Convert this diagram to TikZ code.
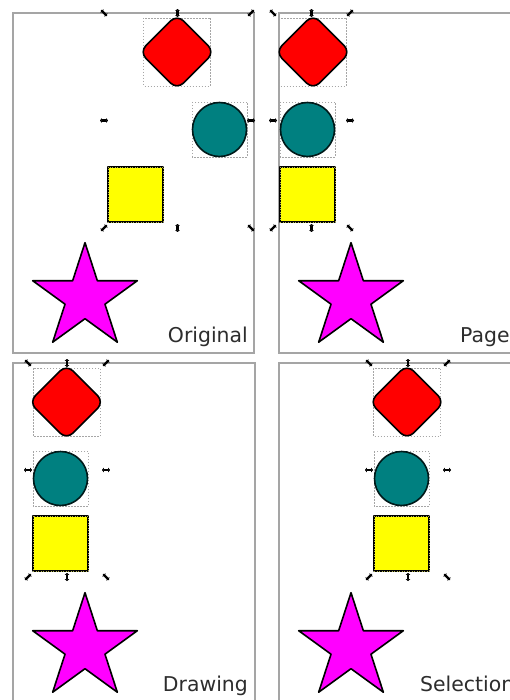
\documentclass[tikz,border=0pt]{standalone}
\usepackage{fontspec}
\setmainfont{DejaVu Sans}
\usetikzlibrary{arrows.meta,calc}
\definecolor{tealc}{RGB}{0,128,128}
\definecolor{redc}{RGB}{255,0,0}
\definecolor{yellowc}{RGB}{255,255,0}
\definecolor{magentac}{RGB}{255,0,255}
\definecolor{txt}{RGB}{45,45,45}
\definecolor{frame}{RGB}{165,165,165}
\tikzset{
  panelframe/.style={draw=frame,line width=1.4pt},
  bboxline/.style={draw=gray!70,line width=0.5pt,dash pattern=on 1.5pt off 1.5pt},
  shapeline/.style={draw=black,line width=1.6pt,line join=round},
  handle/.style={line width=2.4pt,black,{Triangle[length=1.8pt,width=4.5pt]}-{Triangle[length=1.8pt,width=4.5pt]}},
  paneltext/.style={font=\fontsize{20.4}{22}\selectfont,text=txt,inner sep=0pt},
  rdia/.pic={
    \draw[bboxline] (-33.5,-34) rectangle (33.5,34);
    \filldraw[shapeline,fill=redc,rounded corners=9pt] (0,-37.5) -- (37.5,0) -- (0,37.5) -- (-37.5,0) -- cycle;
  },
  tcirc/.pic={
    \draw[bboxline] (-27.5,-27.5) rectangle (27.5,27.5);
    \filldraw[shapeline,draw=black!80!tealc,fill=tealc] (0,0) circle[radius=27];
  },
  ysq/.pic={
    \filldraw[shapeline,fill=yellowc] (-27.5,-27.5) rectangle (27.5,27.5);
    \draw[line width=0.8pt,yellowc!40!gray,dash pattern=on 1pt off 1.5pt] (-27.5,-27.5) rectangle (27.5,27.5);
  },
  mstar/.pic={
    \filldraw[shapeline,fill=magentac]
      (-90:55) -- (-54:21) -- (-18:55) -- (18:21) -- (54:55) -- (90:21)
      -- (126:55) -- (162:21) -- (198:55) -- (234:21) -- cycle;
  }
}
\newcommand\SelHandles[4]{% left right top bottom
  \coordinate (hl) at (#1,{(#3+#4)/2});
  \coordinate (hr) at (#2,{(#3+#4)/2});
  \coordinate (ht) at ({(#1+#2)/2},#3);
  \coordinate (hb) at ({(#1+#2)/2},#4);
  \coordinate (htl) at (#1,#3);
  \coordinate (htr) at (#2,#3);
  \coordinate (hbl) at (#1,#4);
  \coordinate (hbr) at (#2,#4);
  \draw[handle] ($(htl)+(-3,-3)$) -- ($(htl)+(3,3)$);
  \draw[handle] ($(htr)+(-3,3)$) -- ($(htr)+(3,-3)$);
  \draw[handle] ($(hbl)+(-3,3)$) -- ($(hbl)+(3,-3)$);
  \draw[handle] ($(hbr)+(-3,-3)$) -- ($(hbr)+(3,3)$);
  \draw[handle] ($(ht)+(0,-4)$) -- ($(ht)+(0,4)$);
  \draw[handle] ($(hb)+(0,-4)$) -- ($(hb)+(0,4)$);
  \draw[handle] ($(hl)+(-4,0)$) -- ($(hl)+(4,0)$);
  \draw[handle] ($(hr)+(-4,0)$) -- ($(hr)+(4,0)$);
}
\begin{document}
\begin{tikzpicture}[x=1pt,y=-1pt]
\useasboundingbox (0,0) rectangle (510,700);
\clip (0,0) rectangle (510,700);
\fill[white] (0,0) rectangle (510,700);
% panel frames
\draw[panelframe] (13,13) rectangle (254,353);
\draw[panelframe] (279,13) rectangle (530,353);
\draw[panelframe] (13,363) rectangle (255,720);
\draw[panelframe] (279,363) rectangle (530,720);
% Panel 1: Original
\pic at (177,52) {rdia};
\pic at (219.5,129.5) {tcirc};
\pic at (135.5,194.5) {ysq};
\pic at (85,297.7) {mstar};
\SelHandles{104}{251}{13}{228}
\node[paneltext,anchor=base east] (t1) at (248,342) {Original};
% Panel 2: Page
\pic at (313,52) {rdia};
\pic at (307.5,129.5) {tcirc};
\pic at (307.5,194.5) {ysq};
\pic at (351,297.7) {mstar};
\SelHandles{273}{350}{13}{228}
\node[paneltext,anchor=base west] (t2) at (460,342) {Page};
% Panel 3: Drawing
\pic at (66.5,402) {rdia};
\pic at (60.5,478.5) {tcirc};
\pic at (60.5,543.5) {ysq};
\pic at (85,647.7) {mstar};
\SelHandles{28}{106}{363}{577}
\node[paneltext,anchor=base east] (t3) at (248,691) {Drawing};
% Panel 4: Selection
\pic at (407,402) {rdia};
\pic at (401.5,478.5) {tcirc};
\pic at (401.5,543.5) {ysq};
\pic at (351,647.7) {mstar};
\SelHandles{369}{447}{363}{577}
\node[paneltext,anchor=base west] (t4) at (420,691) {Selection};
\end{tikzpicture}
\end{document}
